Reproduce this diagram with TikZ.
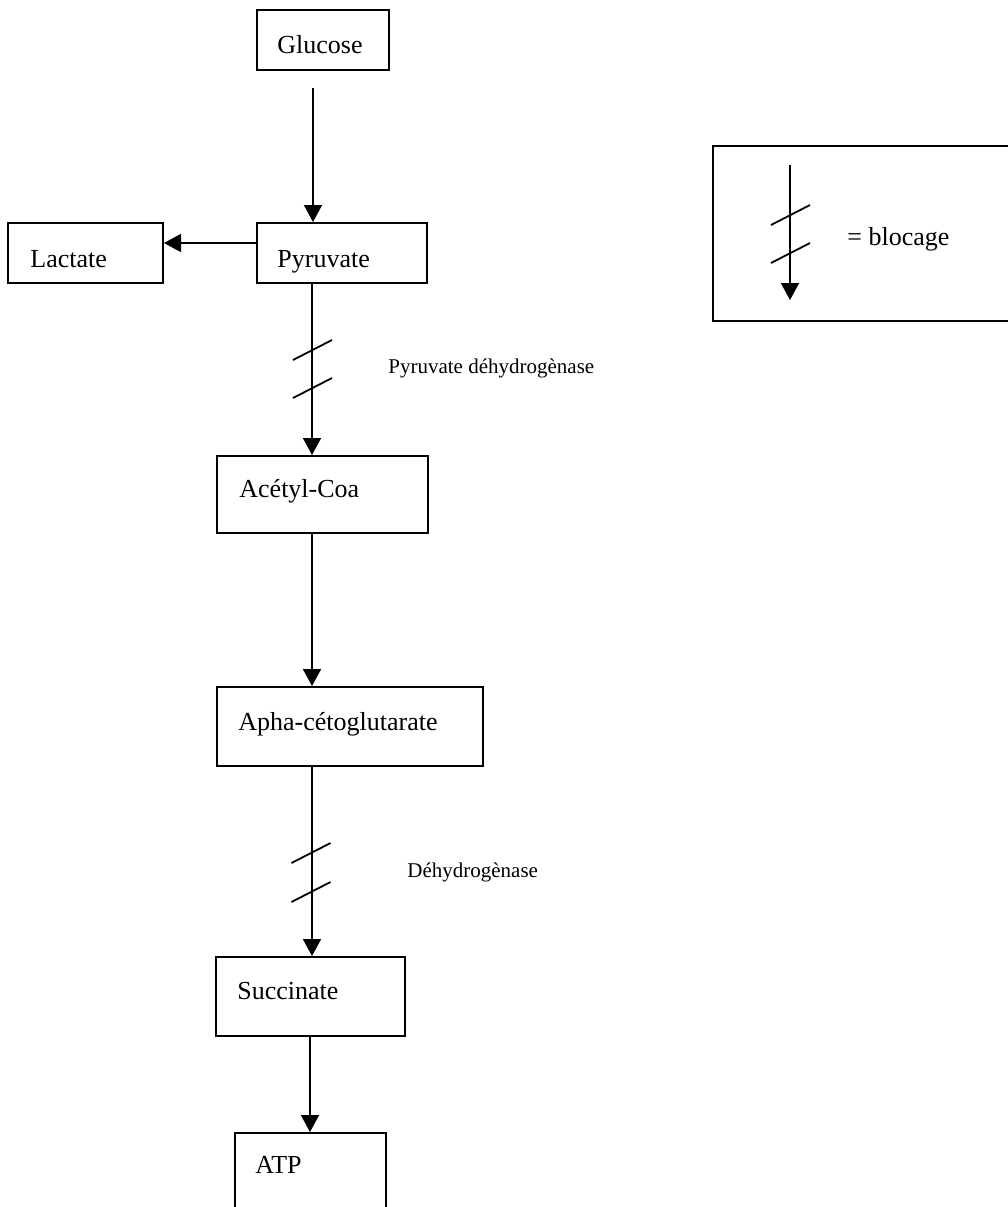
\documentclass[tikz,border=0pt]{standalone}
\usepackage{fontspec}
\setmainfont{Liberation Serif}
\usetikzlibrary{fit,arrows.meta}

\tikzset{
	box/.style={draw, line width=1pt, inner sep=0pt},
	txt/.style={anchor=base west, inner sep=0pt, font=\fontsize{13}{15}\selectfont},
	enz/.style={anchor=base west, inner sep=0pt, font=\fontsize{10.5}{12}\selectfont},
	flow/.style={line width=0.9pt, -{Triangle[width=9pt,length=8.5pt]}},
	cut/.style={line width=0.9pt}
}
\newcommand{\blockmark}[1]{\draw[cut] (#1) +(-19.5,10) -- +(19.5,-10);}

\begin{document}
\begin{tikzpicture}[x=0.5pt,y=-0.5pt]
	\useasboundingbox (0,0) rectangle (1008,1207);

	% boxes
	\node[box, fit={(257,10) (389,70)}] (glucose) {};
	\node[box, fit={(257,223) (427,283)}] (pyruvate) {};
	\node[box, fit={(8,223) (163,283)}] (lactate) {};
	\node[box, fit={(217,456) (428,533)}] (acetyl) {};
	\node[box, fit={(217,687) (483,766)}] (apha) {};
	\node[box, fit={(216,957) (405,1036)}] (succinate) {};
	\node[box, fit={(235,1133) (386,1215)}] (atp) {};
	\node[box, fit={(713,146) (1015,321)}] (legend) {};

	\node[txt] (tglucose) at (277,53) {Glucose};
	\node[txt] (tpyruvate) at (277,267) {Pyruvate};
	\node[txt] (tlactate) at (30,267) {Lactate};
	\node[txt] (tacetyl) at (239,497) {Acétyl-Coa};
	\node[txt] (tapha) at (238,730) {Apha-cétoglutarate};
	\node[txt] (tsuccinate) at (237,999) {Succinate};
	\node[txt] (tatp) at (255,1173) {ATP};
	\node[txt] (tlegend) at (847,245) {= blocage};

	\node[enz] (pdh) at (388,373) {Pyruvate déhydrogènase};
	\node[enz] (dh) at (407,877) {Déhydrogènase};

	% arrows
	\coordinate (col) at (312,0);
	\coordinate (col2) at (310,0);
	\coordinate (gstart) at (313,88);
	\draw[flow] (gstart) -- (gstart |- pyruvate.north);
	\draw[flow] ([yshift=5pt]pyruvate.west) -- ([yshift=5pt]lactate.east);
	\draw[flow] (pyruvate.south -| col) -- (acetyl.north -| col);
	\blockmark{312.5,350}
	\blockmark{312.5,388}
	\draw[flow] (acetyl.south -| col) -- (apha.north -| col);
	\draw[flow] (apha.south -| col) -- (succinate.north -| col);
	\blockmark{311,853}
	\blockmark{311,892}
	\draw[flow] (succinate.south -| col2) -- (atp.north -| col2);

	% legend
	\coordinate (ltop) at (790,165);
	\coordinate (lend) at (790,300);
	\draw[flow] (ltop) -- (lend);
	\blockmark{790.5,215}
	\blockmark{790.5,253}

\end{tikzpicture}
\end{document}
